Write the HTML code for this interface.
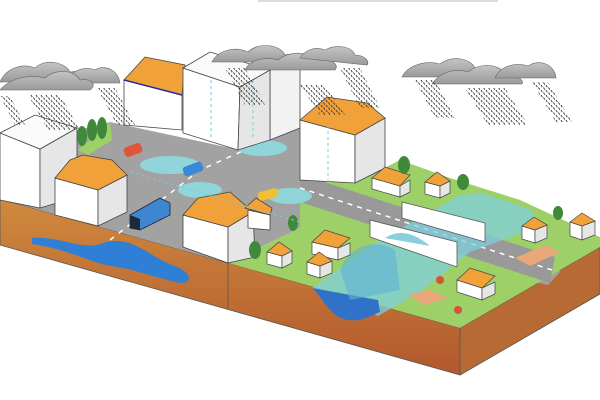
<!DOCTYPE html>
<html><head><meta charset="utf-8"><style>html,body{margin:0;padding:0;background:#fff}svg{display:block}</style></head>
<body>
<svg width="600" height="400" viewBox="0 0 600 400" xmlns="http://www.w3.org/2000/svg">
<defs>
<linearGradient id="soil" x1="0" y1="0" x2="0" y2="1"><stop offset="0" stop-color="#cf8a3e"/><stop offset="1" stop-color="#b2582d"/></linearGradient>
<linearGradient id="cl" x1="0" y1="0" x2="0" y2="1"><stop offset="0" stop-color="#c4c4c4"/><stop offset="1" stop-color="#9a9a9a"/></linearGradient>
<pattern id="rain" width="5" height="5" patternUnits="userSpaceOnUse"><path d="M1 0 l1.3 2.2 M3.5 2.5 l1.3 2.2" stroke="#333" stroke-width="0.9"/></pattern>
</defs>
<rect x="258" y="0" width="240" height="2" fill="#ddd"/>
<!-- soil -->
<polygon points="0,199 460,328 460,375 0,245" fill="url(#soil)" stroke="#555" stroke-width="0.8"/>
<polygon points="460,328 600,247 600,294 460,375" fill="#b86a34" stroke="#555" stroke-width="0.8"/>
<line x1="228" y1="263" x2="228" y2="309" stroke="#555" stroke-width="0.8"/>
<path d="M32,238 C60,236 80,250 100,244 C130,232 150,258 175,266 C195,274 192,286 175,282 C150,276 130,268 110,266 C90,262 70,250 32,244 Z" fill="#2f7fd6"/>
<!-- ground -->
<polygon points="0,199 228,263 300,228 548,285 560,272 555,255 300,178 300,128 240,150 110,122 0,150" fill="#a2a2a2"/>
<polygon points="228,263 460,328 600,247 600,237 520,200 450,178 400,160 355,183 300,178 300,228" fill="#9ed068"/>
<polygon points="78,150 110,122 112,140 88,155" fill="#9ed068"/>
<polygon points="300,174 555,257 550,283 300,202" fill="#999"/>
<polyline points="300,188 552,270" stroke="#fff" stroke-width="1.5" stroke-dasharray="5,5" fill="none"/>
<polyline points="110,240 200,170 290,130" stroke="#fff" stroke-width="1.5" stroke-dasharray="5,6" fill="none"/>
<polygon points="515,258 545,245 560,252 530,266" fill="#e9a77a"/>
<!-- puddles -->
<g fill="#8fdbe0" opacity="0.9">
<ellipse cx="170" cy="165" rx="30" ry="9"/><ellipse cx="262" cy="148" rx="25" ry="8"/>
<ellipse cx="200" cy="190" rx="22" ry="8"/><ellipse cx="290" cy="196" rx="22" ry="8"/>
</g>
<!-- river -->
<polygon points="312,288 380,240 460,195 482,193 532,210 540,226 470,252 420,292 378,316" fill="#7fd0dc" opacity="0.75"/>
<path d="M312,288 C322,296 330,318 348,320 C362,322 372,315 380,312 L378,300 Z" fill="#2f72c8"/>
<path d="M340,270 C350,245 375,238 395,250 L400,290 L350,300 Z" fill="#5fb2d8" opacity="0.6"/>
<!-- bridge -->
<polygon points="402,202 485,223 485,242 402,218" fill="#fff" stroke="#555" stroke-width="0.8"/>
<polygon points="370,220 457,242 457,267 370,237" fill="#fff" stroke="#555" stroke-width="0.8"/>
<path d="M385,238 Q405,225 430,246" fill="#6cc3d6" opacity="0.8"/>
<!-- buildings -->
<g stroke="#444" stroke-width="0.8">
<polygon points="124,80 182,95 182,130 124,125" fill="#fff"/>
<polygon points="124,80 145,57 185,65 182,95" fill="#f0a13a"/>
<line x1="124" y1="80" x2="182" y2="95" stroke="#2a2aa0" stroke-width="1.5"/>
<polygon points="270,70 300,62 300,128 270,140" fill="#f2f2f2"/>
<polygon points="183,68 240,87 238,150 183,133" fill="#fff"/>
<polygon points="240,87 270,70 270,140 238,150" fill="#e6e6e6"/>
<polygon points="183,68 210,52 270,70 240,87" fill="#fafafa"/>
<polygon points="0,133 40,149 40,208 0,200" fill="#fff"/>
<polygon points="40,149 77,128 77,197 40,208" fill="#e6e6e6"/>
<polygon points="0,133 35,115 77,128 40,149" fill="#fafafa"/>
<polygon points="55,178 98,190 98,226 55,215" fill="#fff"/>
<polygon points="98,190 127,175 127,212 98,226" fill="#e6e6e6"/>
<polygon points="55,178 70,160 83,155 112,160 127,175 98,190" fill="#f0a13a"/>
<polygon points="300,120 355,135 355,183 300,180" fill="#fff"/>
<polygon points="355,135 385,118 385,168 355,183" fill="#e6e6e6"/>
<polygon points="300,120 327,97 367,103 385,118 355,135" fill="#f0a13a"/>
<polygon points="183,215 228,227 228,263 183,247" fill="#fff"/>
<polygon points="228,227 253,212 255,257 228,263" fill="#e6e6e6"/>
<polygon points="183,215 198,198 230,192 253,212 228,227" fill="#f0a13a"/>
<polygon points="248,210 270,215 270,230 248,228" fill="#fff"/>
<polygon points="245,208 256,198 272,208 270,215" fill="#f0a13a"/>
</g>
<!-- small houses -->
<g stroke="#444" stroke-width="0.7">
<g><polygon points="372,178 400,186 400,197 372,189" fill="#fff"/><polygon points="400,186 410,180 410,192 400,197" fill="#e6e6e6"/><polygon points="372,178 385,167 410,175 400,186" fill="#f0a13a"/></g>
<g><polygon points="425,182 440,186 440,198 425,194" fill="#fff"/><polygon points="440,186 450,181 450,193 440,198" fill="#e6e6e6"/><polygon points="425,182 437,172 450,181 440,186" fill="#f0a13a"/></g>
<g><polygon points="522,226 535,230 535,243 522,239" fill="#fff"/><polygon points="535,230 547,225 547,238 535,243" fill="#e6e6e6"/><polygon points="522,226 534,217 547,225 535,230" fill="#f0a13a"/></g>
<g><polygon points="570,222 582,226 582,240 570,236" fill="#fff"/><polygon points="582,226 595,221 595,235 582,240" fill="#e6e6e6"/><polygon points="570,222 582,213 595,221 582,226" fill="#f0a13a"/></g>
<g><polygon points="457,280 482,288 482,300 457,292" fill="#fff"/><polygon points="482,288 495,282 495,294 482,300" fill="#e6e6e6"/><polygon points="457,280 470,268 495,276 482,288" fill="#f0a13a"/></g>
<g><polygon points="267,252 282,256 282,268 267,264" fill="#fff"/><polygon points="282,256 292,251 292,263 282,268" fill="#e6e6e6"/><polygon points="267,252 279,242 292,251 282,256" fill="#f0a13a"/></g>
<g><polygon points="312,242 338,248 338,260 312,254" fill="#fff"/><polygon points="338,248 350,243 350,255 338,260" fill="#e6e6e6"/><polygon points="312,242 325,230 350,238 338,248" fill="#f0a13a"/></g>
<g><polygon points="307,262 320,266 320,278 307,274" fill="#fff"/><polygon points="320,266 332,261 332,273 320,278" fill="#e6e6e6"/><polygon points="307,262 319,252 332,261 320,266" fill="#f0a13a"/></g>
</g>
<!-- trees -->
<g fill="#3f8a3a">
<ellipse cx="82" cy="136" rx="5" ry="10"/><ellipse cx="92" cy="130" rx="5" ry="11"/><ellipse cx="102" cy="128" rx="5" ry="11"/>
<ellipse cx="404" cy="165" rx="6" ry="9"/><ellipse cx="463" cy="182" rx="6" ry="8"/><ellipse cx="558" cy="213" rx="5" ry="7"/>
<ellipse cx="255" cy="250" rx="6" ry="9"/><ellipse cx="293" cy="223" rx="5" ry="8"/>
</g>
<g fill="#d0553a"><circle cx="440" cy="280" r="4"/><circle cx="458" cy="310" r="4"/></g>
<polygon points="408,295 430,290 448,298 425,305" fill="#e9a77a"/>
<!-- vehicles -->
<rect x="124" y="145" width="18" height="10" rx="3" fill="#e0553a" transform="rotate(-20 133 150)"/>
<rect x="183" y="164" width="20" height="10" rx="3" fill="#3a88d8" transform="rotate(-20 193 169)"/>
<rect x="258" y="190" width="20" height="9" rx="3" fill="#f0c030" transform="rotate(-15 268 194)"/>
<polygon points="130,215 160,198 170,203 170,215 140,230 130,228" fill="#3f86d0" stroke="#223" stroke-width="0.8"/>
<polygon points="130,215 140,219 140,230 130,228" fill="#1d2a3a"/>
<!-- dashed drainage -->
<g stroke="#6fd0d8" stroke-width="1" stroke-dasharray="3,3" fill="none">
<line x1="211" y1="80" x2="211" y2="140"/><line x1="253" y1="80" x2="253" y2="140"/><line x1="328" y1="125" x2="328" y2="182"/>
<line x1="130" y1="172" x2="300" y2="222"/>
</g>
<!-- clouds -->
<g fill="url(#cl)" stroke="#666" stroke-width="0.6">
<path d="M0,82 C5,70 20,62 35,68 C45,58 65,62 70,72 C85,70 95,76 95,82 Z"/>
<path d="M65,83 C70,70 85,66 95,70 C105,64 118,70 120,83 Z"/>
<path d="M0,90 C10,78 30,74 45,78 C55,68 75,70 80,80 C90,78 98,84 90,90 Z"/>
<path d="M212,62 C218,50 235,46 248,52 C258,42 280,44 285,55 C295,52 300,58 300,62 Z"/>
<path d="M245,70 C250,60 265,56 278,60 C290,50 312,52 318,60 C330,58 340,64 335,70 Z"/>
<path d="M300,58 C305,50 315,46 325,50 C335,44 352,46 355,55 C365,55 370,62 367,65 Z"/>
<path d="M402,77 C408,65 425,60 440,64 C452,55 470,58 475,68 C480,70 478,77 470,77 Z"/>
<path d="M432,84 C440,72 455,68 468,72 C480,62 500,64 505,74 C515,74 525,80 522,84 Z"/>
<path d="M495,78 C500,66 515,62 528,66 C540,58 555,65 556,78 Z"/>
</g>
<!-- rain -->
<g fill="url(#rain)">
<polygon points="0,96 10,96 25,125 15,125"/><polygon points="28,95 60,95 80,130 48,130"/>
<polygon points="97,88 115,88 135,125 117,125"/><polygon points="225,68 245,68 265,105 245,105"/>
<polygon points="300,85 325,85 345,115 320,115"/><polygon points="340,68 360,68 380,108 360,108"/>
<polygon points="415,80 435,80 455,118 435,118"/><polygon points="465,88 505,88 528,125 488,125"/>
<polygon points="532,82 548,82 572,122 556,122"/>
</g>
</svg>
</body></html>
